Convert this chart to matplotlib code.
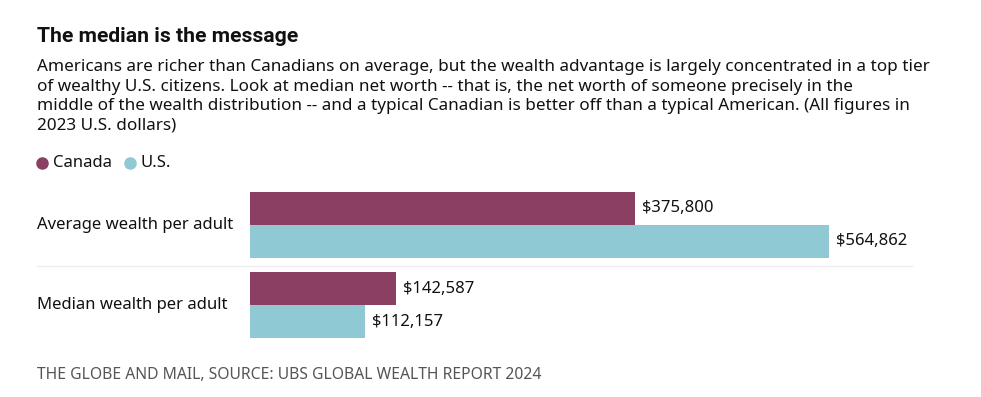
import matplotlib
matplotlib.use('Agg')
import matplotlib.pyplot as plt
from matplotlib import transforms
from matplotlib.lines import Line2D

# data
categories = ['Average wealth per adult', 'Median wealth per adult']
canada = [375800, 142587]
us = [564862, 112157]
series_names = ['Canada', 'U.S.']
colors = ['#8b3f62', '#8fc9d4']

title = 'The median is the message'
subtitle = ('Americans are richer than Canadians on average, but the wealth advantage is largely concentrated in a top tier\n'
            'of wealthy U.S. citizens. Look at median net worth -- that is, the net worth of someone precisely in the\n'
            'middle of the wealth distribution -- and a typical Canadian is better off than a typical American. (All figures in\n'
            '2023 U.S. dollars)')
footer = 'THE GLOBE AND MAIL, SOURCE: UBS GLOBAL WEALTH REPORT 2024'

plt.rcParams['font.family'] = ['Noto Sans', 'DejaVu Sans']

W, H = 981, 397
fig = plt.figure(figsize=(W / 100, H / 100), dpi=100)


def fx(px):
    return px / W


def fy(py):
    return 1 - py / H


# bar area: x 250..929 px, y 192..338 px
ax = fig.add_axes([fx(250), fy(338), fx(929 - 250), (338 - 192) / H])
bh = 0.407
xmax = max(us) * (929 - 250) / (829 - 250)
ypos = list(range(len(categories)))
ax.barh([y - bh / 2 for y in ypos], canada, height=bh, color=colors[0])
ax.barh([y + bh / 2 for y in ypos], us, height=bh, color=colors[1])
ax.set_xlim(0, xmax)
ax.set_ylim(len(categories) - 1 + bh, -bh)
ax.axis('off')

for vals, off in [(canada, -bh / 2), (us, bh / 2)]:
    for y, v in zip(ypos, vals):
        ax.annotate(f'${v:,.0f}', (v, y + off), xytext=(5, 0), textcoords='offset points',
                    va='center', ha='left', fontsize=12, color='#111111')

blend = transforms.blended_transform_factory(fig.transFigure, ax.transData)
for y, lab in zip(ypos, categories):
    ax.text(fx(37), y, lab, transform=blend, va='center', ha='left', fontsize=12, color='#111111')
fig.add_artist(Line2D([fx(37), fx(912)], [fy(265.5), fy(265.5)], color='#eeeeee', lw=1))

fig.text(fx(37), fy(42), title, fontsize=15.2, fontweight='bold', family=['Roboto', 'DejaVu Sans'],
         va='baseline', color='#111111')
fig.text(fx(37), fy(130), subtitle, fontsize=12.3, va='baseline', linespacing=1.3, color='#111111')

# legend
for name, c, dx in zip(series_names, colors, [37, 125]):
    fig.add_artist(Line2D([fx(dx + 5)], [fy(163)], marker='o', ms=8, color=c, lw=0))
    fig.text(fx(dx + 16), fy(163), name, fontsize=12, va='center', color='#111111')

fig.text(fx(37), fy(375), footer, fontsize=11.3, va='center', color='#555555')

fig.savefig('out.png', dpi=100)
